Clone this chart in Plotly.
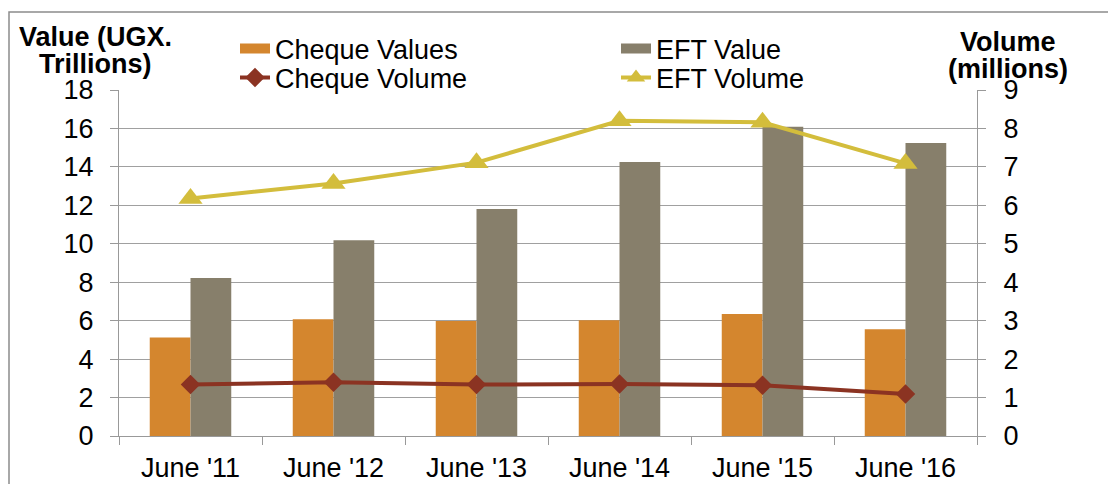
import plotly.graph_objects as go

categories = ["June '11", "June '12", "June '13", "June '14", "June '15", "June '16"]
cheque_values = [5.13, 6.07, 5.98, 6.02, 6.35, 5.55]
eft_values = [8.22, 10.18, 11.81, 14.26, 16.09, 15.24]
cheque_volume = [1.34, 1.40, 1.34, 1.35, 1.32, 1.09]
eft_volume = [6.18, 6.57, 7.11, 8.20, 8.16, 7.09]
left_ticks = [0, 2, 4, 6, 8, 10, 12, 14, 16, 18]
right_ticks = [0, 1, 2, 3, 4, 5, 6, 7, 8, 9]

ORANGE = "#D4862E"
GRAY = "#877F6B"
BROWN = "#8B3322"
YELLOW = "#D3BD3C"
FONT = "Liberation Sans, Arial, sans-serif"
FS = 27

# page body has an 8px default margin; figure sized to fit the window
OFF = 8
W, H = 1116 - OFF, 484 - OFF
L = 119 - OFF
T = 90 - OFF
R = W - (977 - OFF)
B = H - (436 - OFF)
pw, ph = W - L - R, H - T - B

def px_x(sx):
    return (sx - OFF - L) / pw

def px_y(sy):
    return (H - B - (sy - OFF)) / ph

fig = go.Figure()

fig.add_trace(go.Bar(x=categories, y=cheque_values, name="Cheque Values",
                     marker=dict(color=ORANGE, line=dict(width=0)), showlegend=False,
                     legendgroup="cv"))
fig.add_trace(go.Bar(x=categories, y=eft_values, name="EFT Value",
                     marker=dict(color=GRAY, line=dict(width=0)), showlegend=False,
                     legendgroup="ev"))
fig.add_trace(go.Scatter(x=categories, y=cheque_volume, name="Cheque Volume", yaxis="y2",
                         mode="lines+markers", line=dict(color=BROWN, width=4),
                         marker=dict(symbol="diamond", size=15, color=BROWN),
                         legend="legend2"))
fig.add_trace(go.Scatter(x=categories, y=eft_volume, name="EFT Volume", yaxis="y2",
                         mode="lines+markers", line=dict(color=YELLOW, width=4),
                         marker=dict(symbol="triangle-up", size=21, color=YELLOW),
                         legend="legend2"))
# legend proxies for bars (wide rectangular patches)
fig.add_trace(go.Scatter(x=[None], y=[None], name="Cheque Values", mode="lines",
                         line=dict(color=ORANGE, width=14), legendgroup="cv", legend="legend"))
fig.add_trace(go.Scatter(x=[None], y=[None], name="EFT Value", mode="lines",
                         line=dict(color=GRAY, width=14), legendgroup="ev", legend="legend"))

axis_font = dict(family=FONT, size=FS, color="black")
legend_common = dict(orientation="h", xanchor="left", yanchor="middle",
                     font=dict(family=FONT, size=FS, color="black"),
                     bgcolor="rgba(0,0,0,0)", entrywidth=336, entrywidthmode="pixels",
                     itemwidth=30, tracegroupgap=0, itemclick=False)

fig.update_layout(
    width=W, height=H,
    margin=dict(l=L, r=R, t=T, b=B, pad=0, autoexpand=False),
    paper_bgcolor="white", plot_bgcolor="white",
    barmode="group", bargap=0.43, bargroupgap=0,
    font=dict(family=FONT, color="black"),
    legend=dict(x=px_x(235), y=px_y(49), **legend_common),
    legend2=dict(x=px_x(235), y=px_y(78), **legend_common),
    xaxis=dict(type="category", showgrid=False, showline=True, linecolor="#999999", linewidth=1.3,
               ticks="outside", tickson="boundaries", ticklen=8, tickcolor="#999999", tickwidth=1.3,
               tickfont=axis_font, ticklabelstandoff=7, fixedrange=True, automargin=False),
    yaxis=dict(range=[0, 18], tickvals=left_ticks, showgrid=True, gridcolor="#A0A0A0", gridwidth=1.3,
               showline=True, linecolor="#999999", linewidth=1.3, ticks="outside", ticklen=8,
               tickcolor="#999999", tickwidth=1.3, tickfont=axis_font, ticklabelstandoff=11,
               zeroline=False, fixedrange=True, automargin=False),
    yaxis2=dict(range=[0, 9], tickvals=right_ticks, overlaying="y", side="right", showgrid=False,
                showline=True, linecolor="#999999", linewidth=1.3, ticks="outside", ticklen=8,
                tickcolor="#999999", tickwidth=1.3, tickfont=axis_font, ticklabelstandoff=12,
                zeroline=False, fixedrange=True, automargin=False),
)

title_font = dict(family=FONT, size=FS, color="black")
for txt, sx, sy in [("<b>Value (UGX.</b>", 95, 37), ("<b>Trillions)</b>", 95, 64),
                    ("<b>Volume</b>", 1008, 42), ("<b>(millions)</b>", 1008, 69)]:
    fig.add_annotation(text=txt, xref="paper", yref="paper", x=px_x(sx), y=px_y(sy),
                       xanchor="center", yanchor="middle", showarrow=False,
                       font=title_font, align="center")

fig.add_shape(type="rect", xref="paper", yref="paper",
              x0=px_x(9), x1=px_x(1130), y0=px_y(500), y1=px_y(12),
              line=dict(color="#8C8C8C", width=1.5), fillcolor="rgba(0,0,0,0)", layer="below")

fig.write_html("out.html")
